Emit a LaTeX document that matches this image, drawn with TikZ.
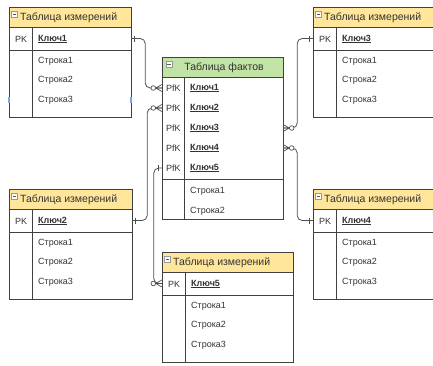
\documentclass[tikz,border=0pt]{standalone}
\usepackage{fontspec}
\setmainfont{Liberation Sans}
\definecolor{hdrYellow}{HTML}{FFE69A}
\definecolor{hdrGreen}{HTML}{C2E3A6}
\definecolor{lineGray}{HTML}{404040}
\definecolor{txtGray}{HTML}{333333}
\definecolor{connGray}{HTML}{505050}
\definecolor{handleBlue}{HTML}{6FA8EC}
\tikzset{
 tbl/.style={draw=lineGray, line width=0.9pt},
 rowbox/.style={draw=none, inner sep=0pt, minimum height=20pt, rectangle},
 hdrtxt/.style={font=\fontsize{10.5}{12}\selectfont, text=txtGray, inner sep=0pt},
 bodytxt/.style={font=\fontsize{9}{11}\selectfont, text=txtGray, inner sep=0pt, anchor=west},
 keytxt/.style={bodytxt, font=\fontsize{9}{11}\selectfont\bfseries},
 conn/.style={draw=connGray, line width=0.8pt, rounded corners=5pt},
 ermark/.style={draw=connGray, line width=0.7pt},
 iconbox/.style={draw=gray!80, fill=white, line width=0.5pt},
 iconminus/.style={draw=gray!70!black, line width=0.6pt},
 handle/.style={fill=handleBlue},
}
\newcommand\DimTable[5]{%
\begin{scope}[shift={(#2,#3)}]
 \fill[hdrYellow] (0,0) rectangle (#5,20);
 \draw[tbl] (0,0) rectangle (#5,110);
 \draw[tbl] (0,20) -- (#5,20) (0,43) -- (#5,43) (23,20) -- (23,110);
 \draw[iconbox] (2.5,4) rectangle (8.5,10);
 \draw[iconminus] (3.8,7) -- (7.2,7);
 \node[hdrtxt, anchor=west] (#1h) at (11,10.5) {Таблица измерений};
 \node[rowbox, minimum width=#5pt] (#1) at (#5/2,31.5) {};
 \node[bodytxt] (#1pk) at (6,32) {PK};
 \node[keytxt] (#1k) at (29,32) {\underline{#4}};
 \node[bodytxt] (#1a) at (29,54) {Строка1};
 \node[bodytxt] (#1b) at (29,73.5) {Строка2};
 \node[bodytxt] (#1c) at (29,93) {Строка3};
\end{scope}}
\newcommand\OneMark[2]{\draw[ermark] ([xshift=#2*3.5pt, yshift=3pt]#1) -- ([xshift=#2*3.5pt, yshift=-3pt]#1);}
\newcommand\ZeroMany[2]{%
 \draw[ermark] ([xshift=#2*6pt]#1) -- ([yshift=3.5pt]#1)
   ([xshift=#2*6pt]#1) -- (#1)
   ([xshift=#2*6pt]#1) -- ([yshift=-3.5pt]#1);
 \draw[ermark, fill=white] ([xshift=#2*8.5pt]#1) circle (2.3pt);}
\begin{document}
\begin{tikzpicture}[x=1pt, y=-1pt]
\useasboundingbox (0,0) rectangle (433,365);
\clip (0,0) rectangle (433,365);
\fill[white] (0,0) rectangle (433,365);

\DimTable{d1}{9}{7}{Ключ1}{122}
\DimTable{d2}{9}{189}{Ключ2}{123}
\DimTable{d3}{313}{7}{Ключ3}{130}
\DimTable{d4}{313}{189}{Ключ4}{130}
\DimTable{d5}{162}{252}{Ключ5}{131}

% selection handles
\fill[handle] (7.6,97) rectangle (10.4,103);
\fill[handle] (129.6,97) rectangle (132.4,103);

% fact table
\begin{scope}[shift={(162,57)}]
 \fill[hdrGreen] (0,0) rectangle (121,20);
 \draw[tbl] (0,0) rectangle (121,162);
 \draw[tbl] (0,20) -- (121,20) (0,122) -- (121,122) (22,20) -- (22,162);
 \draw[iconbox] (4,4) rectangle (10,10);
 \draw[iconminus] (5.3,7) -- (8.7,7);
 \node[hdrtxt] (fh) at (62,10.5) {Таблица фактов};
 \foreach \i/\yy in {1/31,2/51,3/71,4/91,5/111}{
  \node[rowbox, minimum width=121pt] (fk\i) at (60.5,\yy) {};
  \node[bodytxt] (fpk\i) at (4,\yy) {PfK};
  \node[keytxt] (fkt\i) at (28,\yy) {\underline{Ключ\i}};
 }
 \node[bodytxt] (fa) at (28,134) {Строка1};
 \node[bodytxt] (fb) at (28,154) {Строка2};
\end{scope}

% connectors
\draw[conn] (d1.east) -- ++(14,0) |- (fk1.west);
\draw[conn] (d2.east) -- ++(15,0) |- (fk2.west);
\draw[conn] (fk5.west) -- ++(-8,0) |- (d5.west);
\draw[conn] (fk3.east) -- ++(14,0) |- (d3.west);
\draw[conn] (fk4.east) -- ++(14,0) |- (d4.west);

\OneMark{d1.east}{1}
\OneMark{d2.east}{1}
\OneMark{fk5.west}{-1}
\OneMark{d3.west}{-1}
\OneMark{d4.west}{-1}
\ZeroMany{fk1.west}{-1}
\ZeroMany{fk2.west}{-1}
\ZeroMany{d5.west}{-1}
\ZeroMany{fk3.east}{1}
\ZeroMany{fk4.east}{1}
\end{tikzpicture}
\end{document}
